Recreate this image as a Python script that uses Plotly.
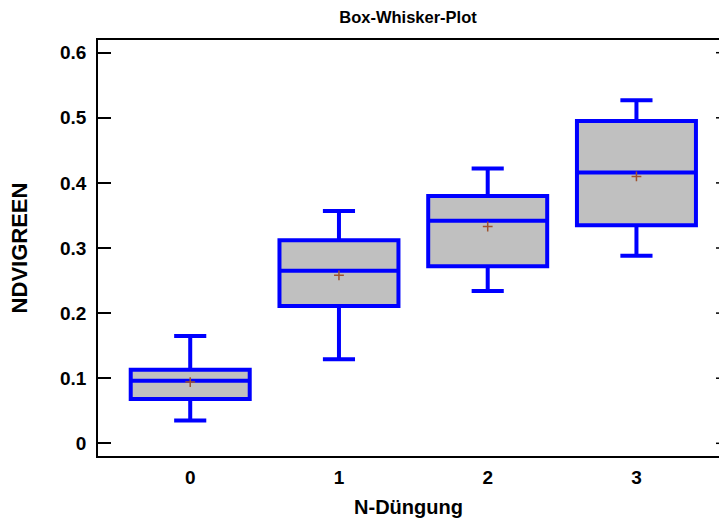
import plotly.graph_objects as go

# Data
groups = [0, 1, 2, 3]
lower_whisker = [0.035, 0.129, 0.234, 0.288]
q1 = [0.068, 0.211, 0.272, 0.335]
median = [0.096, 0.265, 0.342, 0.416]
q3 = [0.113, 0.312, 0.380, 0.495]
upper_whisker = [0.165, 0.357, 0.422, 0.527]
means = [0.094, 0.258, 0.333, 0.410]

y_ticks = [0, 0.1, 0.2, 0.3, 0.4, 0.5, 0.6]
y_ticktext = ["0", "0.1", "0.2", "0.3", "0.4", "0.5", "0.6"]

FONT = "Liberation Sans, Arial, sans-serif"
yr = [-0.0195, 0.6195]

fig = go.Figure()
fig.add_trace(go.Box(
    x=groups, q1=q1, median=median, q3=q3,
    lowerfence=lower_whisker, upperfence=upper_whisker,
    width=0.8, whiskerwidth=0.27,
    fillcolor="#C0C0C0",
    line=dict(color="#0000FF", width=4),
    boxpoints=False, showlegend=False, hoverinfo="skip",
))
fig.add_trace(go.Scatter(
    x=groups, y=means, mode="markers",
    marker=dict(symbol="cross-thin", size=7,
                line=dict(color="#A0522D", width=1.5)),
    showlegend=False, hoverinfo="skip",
))

# short tick marks on the right edge (the right frame lies just outside the picture)
for v in y_ticks:
    fig.add_shape(type="line", xref="paper", yref="y",
                  x0=(716 - 98) / 621, x1=1, y0=v, y1=v,
                  line=dict(color="black", width=1.5), layer="above")

fig.update_layout(
    width=719, height=518,
    margin=dict(l=98, r=0, t=40, b=62),
    paper_bgcolor="white", plot_bgcolor="white",
    font=dict(family=FONT, size=19, color="black", weight="bold"),
    title=dict(text="Box-Whisker-Plot", x=408/719, xanchor="center",
               y=1 - 17/518, yanchor="middle",
               font=dict(family=FONT, size=16.5, color="black", weight="bold")),
    xaxis=dict(range=[-0.62, 3.555], tickvals=groups, ticktext=[str(g) for g in groups],
               ticks="", showline=True, linecolor="black", linewidth=1.5, mirror=True,
               showgrid=False, zeroline=False, ticklabelstandoff=3,
               tickfont=dict(family=FONT, size=19, weight="bold"),
               title=dict(text="N-Düngung", standoff=14,
                          font=dict(family=FONT, size=20, weight="bold"))),
    yaxis=dict(range=yr, tickvals=y_ticks, ticktext=y_ticktext,
               ticks="inside", ticklen=13, tickwidth=1.5, tickcolor="black",
               showline=True, linecolor="black", linewidth=1.5, mirror=False,
               showgrid=False, zeroline=False, ticklabelstandoff=6,
               tickfont=dict(family=FONT, size=19, weight="bold"),
               title=dict(text="NDVIGREEN", standoff=26,
                          font=dict(family=FONT, size=22, weight="bold"))),
)

fig.write_html("out.html")
